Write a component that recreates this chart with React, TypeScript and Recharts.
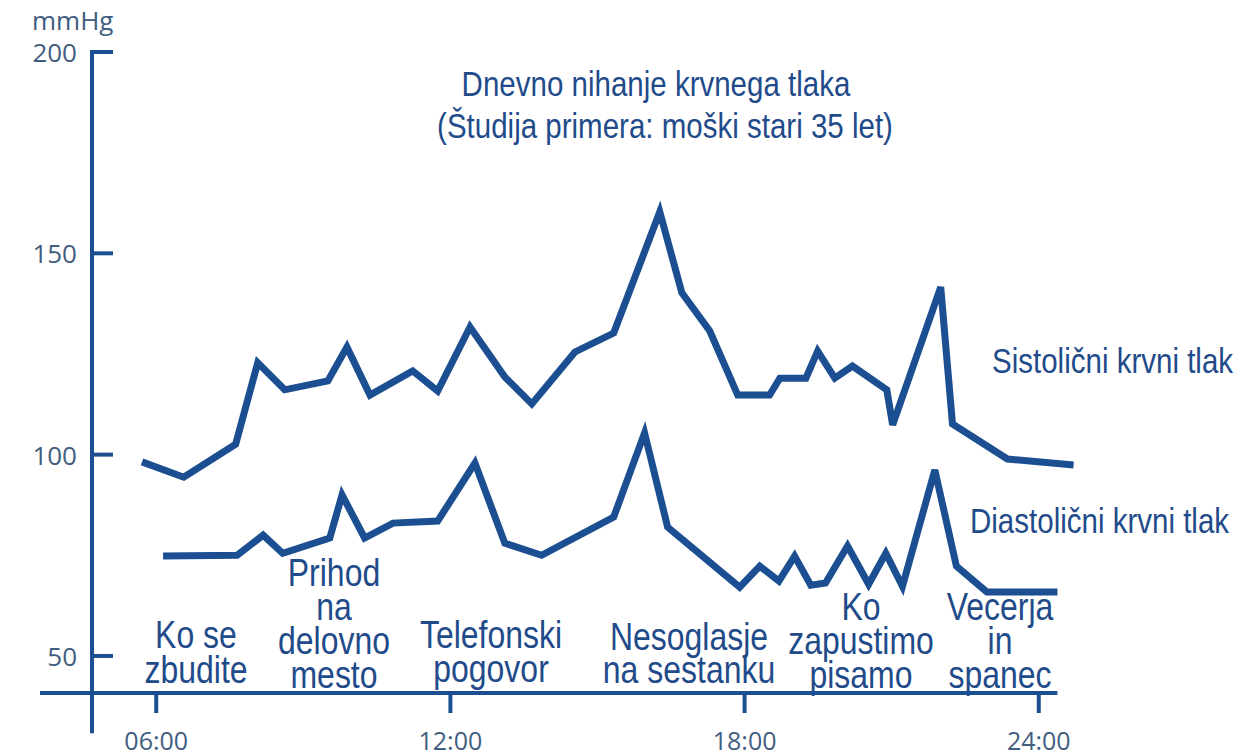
import React from "react";
import { LineChart, Line, XAxis, YAxis, ReferenceLine } from "recharts";

// hours of day (x) and mmHg (y)
const systolicHours = [
  5.71, 6.56, 7.62, 8.07, 8.62, 9.5, 9.89, 10.36, 11.23, 11.74, 12.4, 13.11,
  13.66, 14.54, 15.33, 16.27, 16.72, 17.29, 17.86, 18.51, 18.72, 19.25, 19.49,
  19.84, 20.2, 20.9, 21.02, 22.0, 22.24, 23.36, 24.71,
];
const systolicValues = [
  98.2, 94.4, 102.6, 122.8, 116.1, 118.3, 126.7, 114.8, 120.8, 115.8, 131.7,
  119.3, 112.6, 125.5, 130.2, 160.3, 140.2, 130.7, 114.8, 114.8, 119.0, 119.0,
  125.7, 119.0, 122.0, 116.1, 107.4, 141.6, 107.6, 98.9, 97.4,
];
const diastolicHours = [
  6.14, 7.65, 8.18, 8.58, 9.54, 9.79, 10.25, 10.83, 11.74, 12.5, 13.11, 13.86,
  15.33, 15.96, 16.43, 17.9, 18.31, 18.7, 19.02, 19.35, 19.65, 20.1, 20.53,
  20.88, 21.22, 21.88, 22.32, 22.94, 24.38,
];
const diastolicValues = [
  74.8, 75.0, 80.0, 75.5, 79.3, 90.0, 79.3, 83.0, 83.5, 97.9, 78.0, 75.0, 84.5,
  105.4, 82.0, 67.1, 72.3, 68.6, 74.8, 67.6, 68.1, 77.3, 67.8, 75.5, 67.3,
  96.2, 72.3, 65.9, 65.9,
];

const xTicks = [6, 12, 18, 24];
const yTicks = [50, 100, 150, 200];

const titleLines = ["Dnevno nihanje krvnega tlaka", "(Študija primera: moški stari 35 let)"];
const eventLabels = [
  ["Ko se", "zbudite"],
  ["Prihod", "na", "delovno", "mesto"],
  ["Telefonski", "pogovor"],
  ["Nesoglasje", "na sestanku"],
  ["Ko", "zapustimo", "pisamo"],
  ["Vecerja", "in", "spanec"],
];
const seriesLabels = ["Sistolični krvni tlak", "Diastolični krvni tlak"];

// layout for the text blocks (centre x, first baseline, line step)
const eventLayout = [
  { x: 196, y: 648, step: 35 },
  { x: 334, y: 586, step: 34 },
  { x: 491, y: 648, step: 34 },
  { x: 689, y: 650, step: 33 },
  { x: 861, y: 620, step: 34 },
  { x: 1000, y: 620, step: 34 },
];

const blue = "#1c4f91";
const textBlue = "#1f4b8a";
const tickColor = "#415d7f";
const narrowFont = "'Liberation Sans', Arial, sans-serif";
const tickFont = "'Open Sans', 'Noto Sans', sans-serif";

const systolic = systolicHours.map((h, i) => ({ h, v: systolicValues[i] }));
const diastolic = diastolicHours.map((h, i) => ({ h, v: diastolicValues[i] }));

const fmtHour = (h: number) => `${String(h).padStart(2, "0")}:00`;

// Arial squeezed sideways, standing in for Arial Narrow
const Narrow = ({ x, y, anchor = "middle", size = 36, children }: any) => (
  <text transform={`translate(${x} ${y}) scale(0.82 1)`} textAnchor={anchor} fontSize={size}>
    {children}
  </text>
);

const XTick = (props: any) => {
  const { x, y, payload } = props;
  return (
    <g>
      <line x1={x} x2={x} y1={y} y2={y + 20} stroke={blue} strokeWidth={4} />
      <text x={x} y={y + 57} textAnchor="middle" fontFamily={tickFont} fontSize={25} fill={tickColor}>
        {fmtHour(payload.value)}
      </text>
    </g>
  );
};

const YTick = (props: any) => {
  const { x, y, payload } = props;
  return (
    <g>
      <line x1={x} x2={x + 21} y1={y} y2={y} stroke={blue} strokeWidth={4} />
      <text x={x - 15} y={y + 10} textAnchor="end" fontFamily={tickFont} fontSize={26} fill={tickColor}>
        {payload.value}
      </text>
    </g>
  );
};

export default function App() {
  return (
    <div style={{ position: "absolute", left: 0, top: 0, width: 1247, height: 756, background: "#fff" }}>
      <LineChart width={1247} height={756} margin={{ top: 52, right: 169, left: 0, bottom: 0 }}>
        <XAxis
          dataKey="h"
          type="number"
          domain={[4.69, 24.8]}
          ticks={xTicks}
          interval={0}
          height={63}
          axisLine={false}
          tickLine={false}
          tickSize={0}
          tickMargin={0}
          tick={<XTick />}
        />
        <YAxis
          type="number"
          domain={[40.8, 200]}
          ticks={yTicks}
          interval={0}
          width={92}
          axisLine={false}
          tickLine={false}
          tickSize={0}
          tickMargin={0}
          tick={<YTick />}
        />
        <ReferenceLine
          segment={[{ x: 3.63, y: 40.8 }, { x: 24.38, y: 40.8 }]}
          stroke={blue}
          strokeWidth={4}
          ifOverflow="visible"
        />
        <ReferenceLine
          segment={[{ x: 4.69, y: 30.8 }, { x: 4.69, y: 200.5 }]}
          stroke={blue}
          strokeWidth={4}
          ifOverflow="visible"
        />
        <Line
          data={systolic}
          dataKey="v"
          stroke={blue}
          strokeWidth={7}
          strokeLinejoin="miter"
          strokeLinecap="butt"
          dot={false}
          activeDot={false}
          isAnimationActive={false}
        />
        <Line
          data={diastolic}
          dataKey="v"
          stroke={blue}
          strokeWidth={7}
          strokeLinejoin="miter"
          strokeLinecap="butt"
          dot={false}
          activeDot={false}
          isAnimationActive={false}
        />
        <text x={32} y={30} fontFamily={tickFont} fontSize={26} fill={tickColor}>
          mmHg
        </text>
        <g fontFamily={narrowFont} fill={textBlue}>
          <Narrow x={656} y={96}>{titleLines[0]}</Narrow>
          <Narrow x={665} y={138}>{titleLines[1]}</Narrow>
          <Narrow x={992} y={373} anchor="start">{seriesLabels[0]}</Narrow>
          <Narrow x={970} y={533} anchor="start">{seriesLabels[1]}</Narrow>
          {eventLabels.map((lines, i) =>
            lines.map((line, j) => (
              <Narrow
                key={`${i}-${j}`}
                x={eventLayout[i].x}
                y={eventLayout[i].y + j * eventLayout[i].step}
                size={39}
              >
                {line}
              </Narrow>
            ))
          )}
        </g>
      </LineChart>
    </div>
  );
}
